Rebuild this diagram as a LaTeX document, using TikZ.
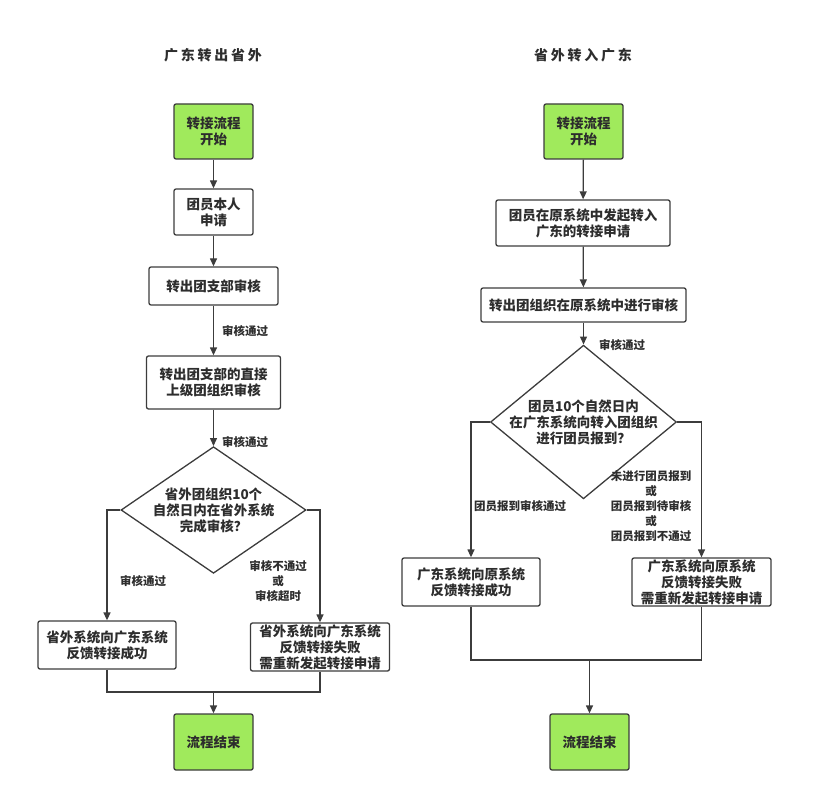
\documentclass[tikz,border=0pt]{standalone}
\usepackage{fontspec}
\setmainfont{Noto Sans CJK SC}
\newfontfamily\titlefont[LetterSpace=20]{Noto Sans CJK SC}
\usetikzlibrary{shapes.geometric,arrows.meta}
\definecolor{linegray}{RGB}{60,60,60}
\definecolor{textgray}{RGB}{45,45,45}
\definecolor{startgreen}{RGB}{160,234,92}

\begin{document}
\begin{tikzpicture}[x=1pt,y=-1pt,
    box/.style={draw=linegray, line width=1.3pt, rounded corners=2pt, fill=white, align=center, text=textgray, inner sep=0pt, font=\fontsize{13.5}{16}\selectfont\bfseries},
    startbox/.style={box, fill=startgreen, minimum width=79pt},
    decision/.style={diamond, draw=linegray, line width=1.3pt, inner sep=-10pt, align=center, text=textgray, font=\fontsize{13.5}{16}\selectfont\bfseries},
    note/.style={align=center, text=textgray, inner sep=0pt, font=\fontsize{11.5}{15}\selectfont\bfseries},
    heading/.style={text=textgray, inner sep=0pt, font=\fontsize{14}{17}\selectfont\titlefont\bfseries},
    link/.style={draw=linegray, line width=1.3pt},
    arrow/.style={link, -{Triangle[length=8pt,width=7pt]}}]
    \useasboundingbox (0,0) rectangle (830,794);
    % left: guangdong out
    \node[heading] (titleL) at (213,55) {广东转出省外};
    \node[startbox, minimum height=55pt] (startL) at (213.5,131.5) {转接流程\\开始};
    \node[box, minimum width=79pt, minimum height=46pt] (applyL) at (213.5,212) {团员本人\\申请};
    \node[box, minimum width=129pt, minimum height=38pt] (branchL) at (213.5,286) {转出团支部审核};
    \node[box, minimum width=134pt, minimum height=53pt] (upperL) at (213.5,382.5) {转出团支部的直接\\上级团组织审核};
    \node[decision, minimum width=185pt, minimum height=106pt] (decideL) at (213.5,510) {省外团组织10个\\自然日内在省外系统\\完成审核？};
    \node[box, minimum width=138pt, minimum height=48pt] (okL) at (107,645) {省外系统向广东系统\\反馈转接成功};
    \node[box, minimum width=139pt, minimum height=48pt] (failL) at (320,647) {省外系统向广东系统\\反馈转接失败\\需重新发起转接申请};
    \node[startbox, minimum height=56pt] (endL) at (213.5,742) {流程结束};
    \coordinate (joinL) at (213.5,692);
    \node[note] (passL1) at (245,331) {审核通过};
    \node[note] (passL2) at (245,442) {审核通过};
    \node[note] (passL3) at (143,581) {审核通过};
    \node[note] (rejectL) at (278,581) {审核不通过\\或\\审核超时};
    \draw[arrow] (startL) -- (applyL);
    \draw[arrow] (applyL) -- (branchL);
    \draw[arrow] (branchL) -- (upperL);
    \draw[arrow] (upperL) -- (decideL);
    \draw[arrow] (decideL.west) -| (okL.north);
    \draw[arrow] (decideL.east) -| (failL.north);
    \draw[link] (okL.south) |- (joinL) -| (failL.south);
    \draw[arrow] (joinL) -- (endL.north);
    % right: guangdong in
    \node[heading] (titleR) at (583,55) {省外转入广东};
    \node[startbox, minimum height=55pt] (startR) at (583.5,131.5) {转接流程\\开始};
    \node[box, minimum width=174pt, minimum height=46pt] (applyR) at (583,223) {团员在原系统中发起转入\\广东的转接申请};
    \node[box, minimum width=205pt, minimum height=34pt] (reviewR) at (583.5,305) {转出团组织在原系统中进行审核};
    \node[decision, minimum width=186pt, minimum height=106pt] (decideR) at (583.5,422) {团员10个自然日内\\在广东系统向转入团组织\\进行团员报到？};
    \node[box, minimum width=138pt, minimum height=48pt] (okR) at (471,582) {广东系统向原系统\\反馈转接成功};
    \node[box, minimum width=139pt, minimum height=48pt] (failR) at (701.5,582) {广东系统向原系统\\反馈转接失败\\需重新发起转接申请};
    \node[startbox, minimum height=56pt] (endR) at (589.5,742) {流程结束};
    \coordinate (joinR) at (589.5,660);
    \node[note] (passR) at (622,345) {审核通过};
    \node[note] (reportR) at (520,506) {团员报到审核通过};
    \node[note] (rejectR) at (651,506) {未进行团员报到\\或\\团员报到待审核\\或\\团员报到不通过};
    \draw[arrow] (startR) -- (applyR);
    \draw[arrow] (applyR) -- (reviewR);
    \draw[arrow] (reviewR) -- (decideR);
    \draw[arrow] (decideR.west) -| (okR.north);
    \draw[arrow] (decideR.east) -| (failR.north);
    \draw[link] (okR.south) |- (joinR) -| (failR.south);
    \draw[arrow] (joinR) -- (endR.north);
\end{tikzpicture}
\end{document}
